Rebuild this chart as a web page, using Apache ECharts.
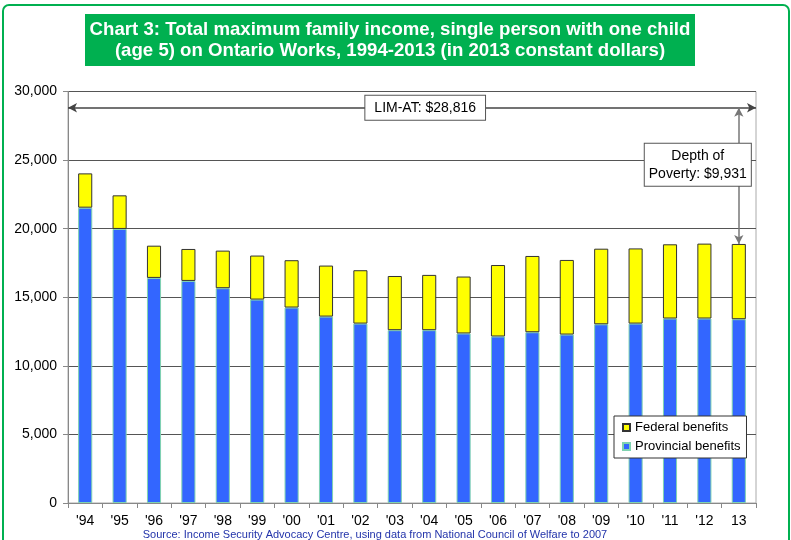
<!DOCTYPE html>
<html>
<head>
<meta charset="utf-8">
<script src="https://cdn.jsdelivr.net/npm/echarts@6/dist/echarts.min.js"></script>
<style>
  html, body { margin: 0; padding: 0; background: #fff; }
  #chart { width: 791px; height: 540px; }
</style>
</head>
<body>
<div id="chart"></div>
<script>
// data (2013 constant dollars)
const years = ["'94", "'95", "'96", "'97", "'98", "'99", "'00", "'01", "'02", "'03",
               "'04", "'05", "'06", "'07", "'08", "'09", "'10", "'11", "'12", "13"];
const totalIncome = [24030, 22430, 18760, 18520, 18400, 18040, 17700, 17310, 16970, 16550,
                     16630, 16510, 17350, 18010, 17720, 18540, 18560, 18860, 18910, 18885];
const provincial = [21530, 19980, 16410, 16190, 15660, 14830, 14250, 13590, 13080, 12600,
                    12600, 12360, 12140, 12450, 12280, 13030, 13080, 13450, 13450, 13400];
const federal = totalIncome.map((t, i) => t - provincial[i]);

const limAt = 28816;
const depthOfPoverty = 9931;
const yTicks = [0, 5000, 10000, 15000, 20000, 25000, 30000];

const lastYear = years[years.length - 1];
const lastTotal = totalIncome[totalIncome.length - 1];
const fmt = v => v.toLocaleString('en-US');

const chart = echarts.init(document.getElementById('chart'));
chart.setOption({
  animation: false,
  textStyle: { fontFamily: 'Liberation Sans, Arial, sans-serif' },
  graphic: [
    {
      type: 'rect', silent: true, z: -1,
      shape: { x: 3, y: 5, width: 786, height: 560, r: 6 },
      style: { fill: 'none', stroke: '#00B050', lineWidth: 2 }
    },
    {
      type: 'rect', silent: true,
      shape: { x: 85, y: 14, width: 610, height: 52 },
      style: { fill: '#00B050' }
    },
    {
      type: 'text', silent: true, x: 390, y: 19, scaleX: 0.98,
      style: {
        text: 'Chart 3: Total maximum family income, single person with one child\n(age 5) on Ontario Works, 1994-2013 (in 2013 constant dollars)',
        fill: '#fff', align: 'center',
        font: 'bold 19px "Liberation Sans", Arial, sans-serif',
        lineHeight: 21
      }
    },
    {
      type: 'text', silent: true, x: 375, y: 529,
      style: {
        text: 'Source: Income Security Advocacy Centre, using data from National Council of Welfare to 2007',
        fill: '#2233AA', align: 'center',
        font: '11px "Liberation Sans", Arial, sans-serif'
      }
    }
  ],
  legend: {
    data: ['Federal benefits', 'Provincial benefits'],
    orient: 'vertical',
    left: 614, top: 416,
    itemWidth: 7, itemHeight: 7, itemGap: 6,
    icon: 'rect',
    backgroundColor: '#fff',
    borderColor: '#333', borderWidth: 1,
    padding: [5, 6, 5, 8],
    textStyle: { fontSize: 13, color: '#000' }
  },
  grid: { left: 68, right: 35, top: 91.5, bottom: 37, show: true, borderColor: '#aaa', borderWidth: 1 },
  xAxis: {
    type: 'category',
    data: years,
    axisLine: { lineStyle: { color: '#888' } },
    axisTick: { show: true, length: 5, lineStyle: { color: '#888' } },
    axisLabel: { color: '#000', fontSize: 14, margin: 11, interval: 0 }
  },
  yAxis: {
    type: 'value',
    min: yTicks[0], max: yTicks[yTicks.length - 1], interval: 5000,
    axisLine: { show: true, lineStyle: { color: '#888' } },
    axisTick: { show: true, length: 5, lineStyle: { color: '#888' } },
    axisLabel: { color: '#000', fontSize: 14, margin: 11, formatter: v => fmt(v) },
    splitLine: { lineStyle: { color: '#555', width: 1 } }
  },
  series: [
    {
      name: 'Provincial benefits',
      type: 'bar', stack: 'income',
      data: provincial,
      barWidth: '41%',
      itemStyle: { color: '#3366FF', borderColor: '#7fd3b0', borderWidth: 1 }
    },
    {
      name: 'Federal benefits',
      type: 'bar', stack: 'income',
      data: federal,
      barWidth: '41%',
      itemStyle: { color: '#FFFF00', borderColor: '#333', borderWidth: 1 },
      markLine: {
        silent: true,
        symbol: ['arrow', 'arrow'],
        symbolSize: [7, 9],
        lineStyle: { type: 'solid', color: '#444', width: 1.5 },
        label: { show: false },
        data: [
          { yAxis: limAt },
          [
            { coord: [lastYear, limAt], lineStyle: { color: '#777' } },
            { coord: [lastYear, lastTotal] }
          ]
        ]
      },
      markPoint: {
        silent: true,
        symbol: 'rect', symbolSize: 0,
        label: {
          show: true, color: '#000', fontSize: 14, lineHeight: 18, align: 'center',
          backgroundColor: '#fff', borderColor: '#555', borderWidth: 1
        },
        data: [
          {
            coord: [years[10], limAt],
            label: { formatter: 'LIM-AT: $' + fmt(limAt), padding: [3, 9], offset: [-4, 0] }
          },
          {
            coord: [lastYear, (limAt + lastTotal) / 2],
            label: {
              formatter: 'Depth of\nPoverty: $' + fmt(depthOfPoverty),
              padding: [3, 4], offset: [-41, -11]
            }
          }
        ]
      }
    }
  ]
});
</script>
</body>
</html>
